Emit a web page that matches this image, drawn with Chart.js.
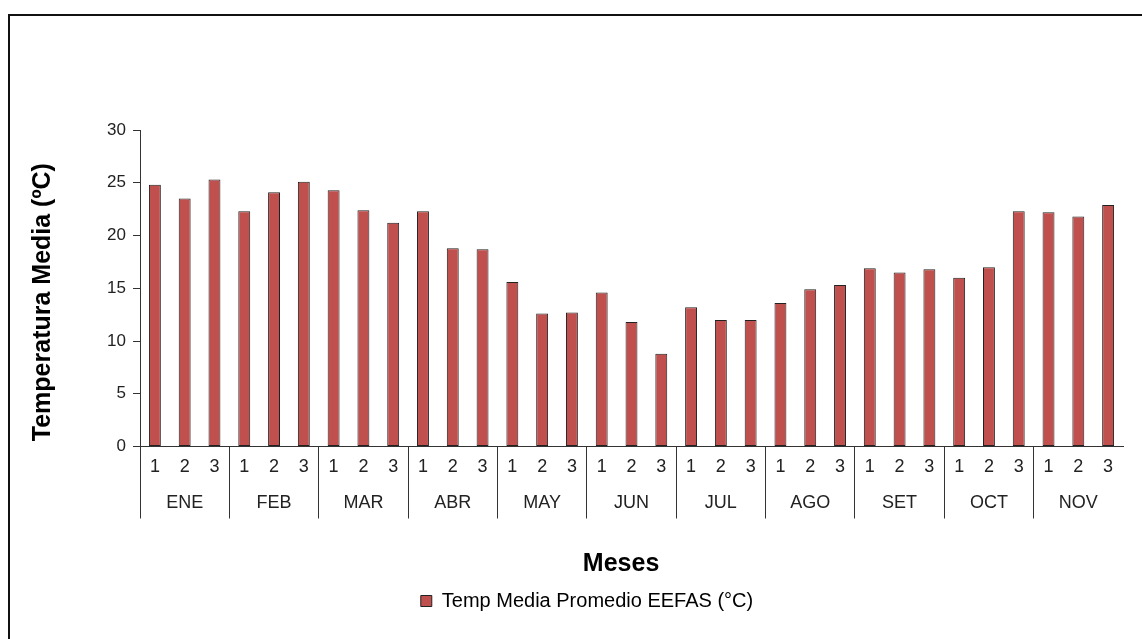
<!DOCTYPE html>
<html>
<head>
<meta charset="utf-8">
<script src="https://cdn.jsdelivr.net/npm/chart.js@4/dist/chart.umd.min.js"></script>
<style>
  html, body { margin: 0; padding: 0; background: #fff; overflow: hidden; }
  #frame { position: absolute; left: 8px; top: 14px; width: 1150px; height: 650px; border: 2px solid #111; box-sizing: border-box; }
  #wrap { position: absolute; left: 0; top: 0; width: 1142px; height: 639px; }
</style>
</head>
<body>
<div id="frame"></div>
<div id="wrap"><canvas id="c" width="1142" height="639"></canvas></div>
<script>
// Data
const months = ['ENE', 'FEB', 'MAR', 'ABR', 'MAY', 'JUN', 'JUL', 'AGO', 'SET', 'OCT', 'NOV'];
const decades = ['1', '2', '3'];
const ene = [24.8, 23.5, 25.3];
const feb = [22.3, 24.1, 25.1];
const mar = [24.3, 22.4, 21.2];
const abr = [22.3, 18.8, 18.7];
const may = [15.6, 12.6, 12.7];
const jun = [14.6, 11.8, 8.8];
const jul = [13.2, 12.0, 12.0];
const ago = [13.6, 14.9, 15.3];
const set = [16.9, 16.5, 16.8];
const oct = [16.0, 17.0, 22.3];
const nov = [22.2, 21.8, 22.9];
const seriesName = 'Temp Media Promedio EEFAS (°C)';
const yTitle = 'Temperatura Media (ºC)';
const xTitle = 'Meses';

const monthValues = [ene, feb, mar, abr, may, jun, jul, ago, set, oct, nov];
const labels = [];
const values = [];
months.forEach((m, i) => {
  decades.forEach((d, j) => {
    labels.push([d, j === 1 ? m : '']);
    values.push(monthValues[i][j]);
  });
});

const FONT = "'Liberation Sans', Arial, sans-serif";
const RED = '#C0504D';
const DARK = '#222';
const LEFT = 51;
const NB = '\u00A0';

new Chart(document.getElementById('c'), {
  type: 'bar',
  data: {
    labels: labels,
    datasets: [{
      label: seriesName,
      data: values,
      backgroundColor: RED,
      borderColor: DARK,
      borderWidth: 1,
      borderSkipped: false,
      categoryPercentage: 1.0,
      barPercentage: 0.4
    }]
  },
  options: {
    responsive: false,
    animation: false,
    devicePixelRatio: 1,
    layout: { padding: { top: 130, right: 19, bottom: 18, left: LEFT } },
    plugins: {
      tooltip: { enabled: false },
      legend: {
        position: 'bottom',
        labels: {
          font: { family: FONT, size: 20 },
          color: '#222',
          boxWidth: 11,
          boxHeight: 11,
          padding: 10,
          generateLabels: () => [{
            text: seriesName,
            fillStyle: RED,
            strokeStyle: DARK,
            lineWidth: 1,
            datasetIndex: 0
          }]
        }
      }
    },
    scales: {
      x: {
        offset: true,
        border: { display: true, color: '#333', width: 1 },
        grid: {
          display: true,
          offset: true,
          drawOnChartArea: false,
          drawTicks: true,
          tickLength: 72,
          color: (ctx) => (ctx.index % 3 === 0 ? '#333' : 'rgba(0,0,0,0)'),
          lineWidth: 1
        },
        ticks: {
          autoSkip: false,
          maxRotation: 0,
          minRotation: 0,
          padding: -69,
          color: '#222',
          font: { family: FONT, size: 18, lineHeight: 2 }
        },
        title: {
          display: true,
          text: xTitle + NB + NB + NB,
          color: '#000',
          font: { family: FONT, size: 25, weight: 'bold', lineHeight: 1.2 },
          padding: { top: 97, bottom: 1.5 }
        }
      },
      y: {
        min: 0,
        max: 30,
        afterFit: (scale) => { scale.width = 140 - LEFT; },
        border: { display: true, color: '#333', width: 1 },
        grid: {
          display: true,
          drawOnChartArea: false,
          drawTicks: true,
          tickLength: 7,
          color: '#333'
        },
        ticks: {
          stepSize: 5,
          padding: 7,
          color: '#222',
          font: { family: FONT, size: 17 }
        },
        title: {
          display: true,
          text: yTitle + NB + NB + NB + NB,
          color: '#000',
          font: { family: FONT, size: 25, weight: 'bold', lineHeight: 1.2 },
          padding: { top: -23, bottom: 0 }
        }
      }
    }
  }
});
</script>
</body>
</html>
